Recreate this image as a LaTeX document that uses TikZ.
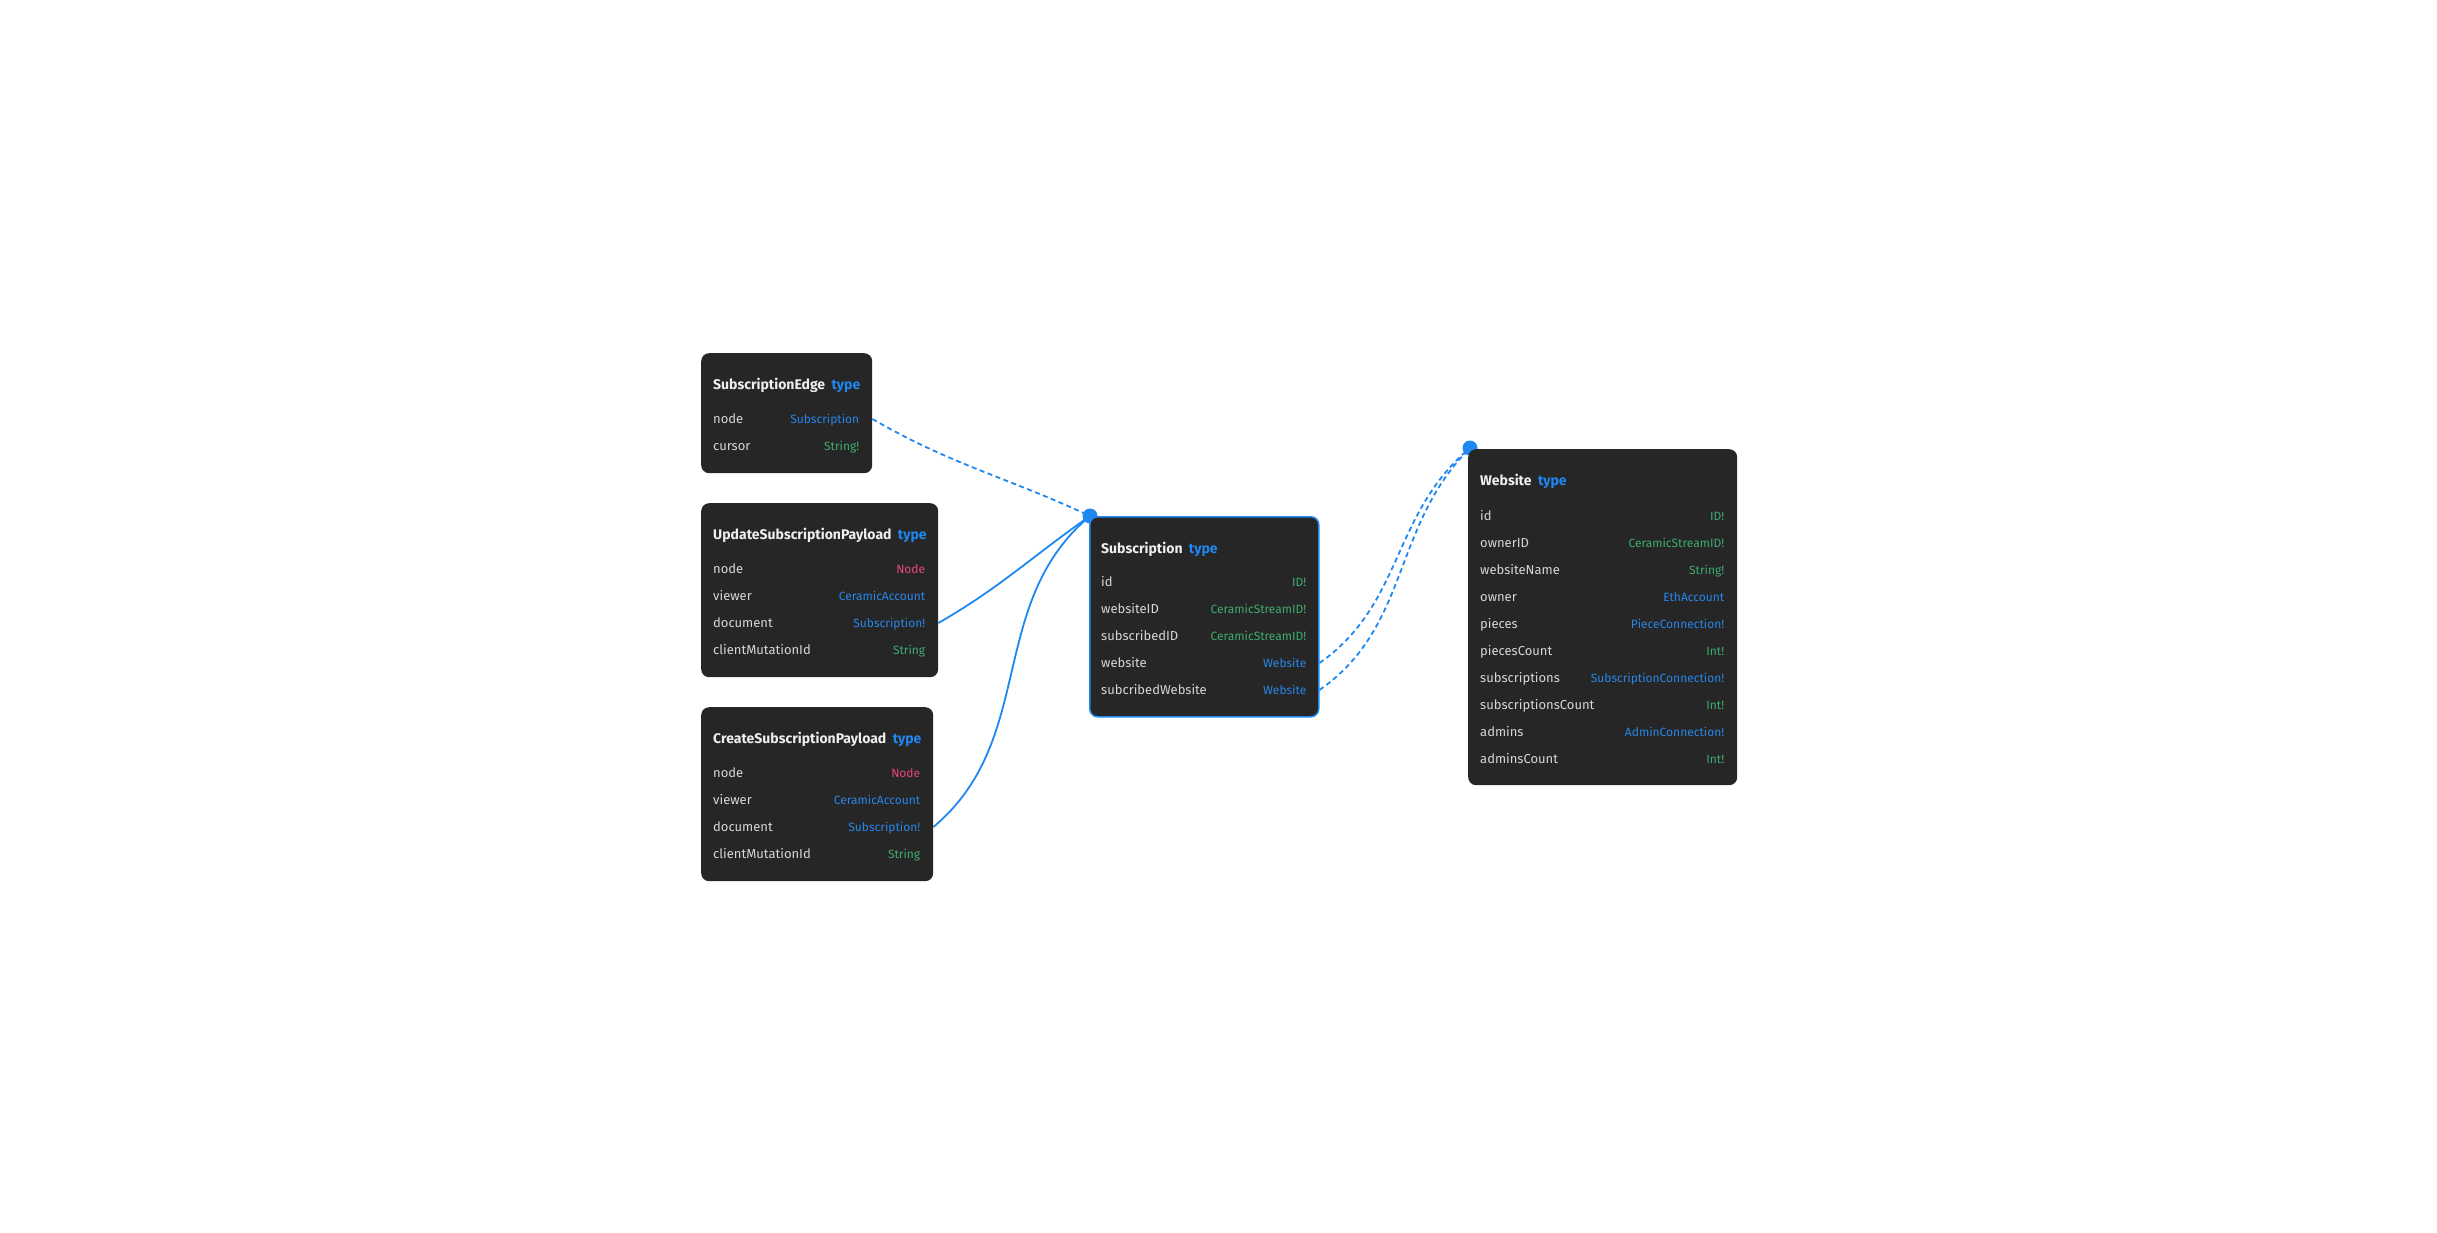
\documentclass[tikz,border=0pt]{standalone}
\usepackage{fontspec}
\setmainfont{Fira Sans}
\usepackage{tikz}
\usetikzlibrary{backgrounds}
\usetikzlibrary{calc}
\usetikzlibrary{positioning}
\definecolor{panel}{RGB}{38,38,38}
\definecolor{titlecol}{RGB}{238,238,238}
\definecolor{fieldcol}{RGB}{214,214,214}
\definecolor{linkblue}{RGB}{30,136,240}
\definecolor{objblue}{RGB}{40,134,232}
\definecolor{scalargreen}{RGB}{62,172,112}
\definecolor{ifacepink}{RGB}{232,68,126}
\tikzset{
    typebox/.style = {
      rectangle,
      rounded corners=8pt,
      fill=panel,
      anchor=north west,
      inner sep=0pt
    },
    pickedbox/.style = {
      typebox,
      draw=linkblue,
      line width=1.5pt
    },
    cell/.style = {inner sep=0pt, text height=9pt, text depth=0pt, font=\fontsize{13}{16}\selectfont},
    typename/.style = {cell, anchor=west, text=titlecol, font=\fontsize{14}{16}\selectfont\bfseries},
    kindtag/.style = {cell, text=linkblue, font=\fontsize{14}{16}\selectfont\bfseries},
    fieldname/.style = {cell, anchor=west, text=fieldcol},
    fieldtype/.style = {cell, anchor=east, font=\fontsize{12}{16}\selectfont},
    scalartype/.style = {fieldtype, text=scalargreen},
    objecttype/.style = {fieldtype, text=objblue},
    ifacetype/.style = {fieldtype, text=ifacepink},
    link/.style = {draw=linkblue, line width=1.8pt},
    weaklink/.style = {link, dash pattern=on 5pt off 3.5pt},
    hub/.style = {circle, fill=linkblue, minimum size=15pt, inner sep=0pt},
}

\begin{document}
\begin{tikzpicture}[x=1pt, y=-1pt]
      \useasboundingbox (0,0) rectangle (2437,1233);

      % SubscriptionEdge
      \node[typebox, minimum width=171pt, minimum height=120pt] (edge) at (701,353) {};
      \node[typename] (edgetitle) at ($(edge.north west)+(12,32)$) {SubscriptionEdge};
      \node[kindtag, base right=6pt of edgetitle] (edgekind) {type};
      \node[fieldname] (edge1) at ($(edge.north west)+(12,66)$) {node};
      \node[objecttype] (edge1t) at ($(edge.north east)+(-13,66)$) {Subscription};
      \node[fieldname] (edge2) at ($(edge.north west)+(12,93)$) {cursor};
      \node[scalartype] (edge2t) at ($(edge.north east)+(-13,93)$) {String!};

      % UpdateSubscriptionPayload
      \node[typebox, minimum width=237pt, minimum height=174pt] (update) at (701,503) {};
      \node[typename] (updatetitle) at ($(update.north west)+(12,32)$) {UpdateSubscriptionPayload};
      \node[kindtag, base right=6pt of updatetitle] (updatekind) {type};
      \node[fieldname] (update1) at ($(update.north west)+(12,66)$) {node};
      \node[ifacetype] (update1t) at ($(update.north east)+(-13,66)$) {Node};
      \node[fieldname] (update2) at ($(update.north west)+(12,93)$) {viewer};
      \node[objecttype] (update2t) at ($(update.north east)+(-13,93)$) {CeramicAccount};
      \node[fieldname] (update3) at ($(update.north west)+(12,120)$) {document};
      \node[objecttype] (update3t) at ($(update.north east)+(-13,120)$) {Subscription!};
      \node[fieldname] (update4) at ($(update.north west)+(12,147)$) {clientMutationId};
      \node[scalartype] (update4t) at ($(update.north east)+(-13,147)$) {String};

      % CreateSubscriptionPayload
      \node[typebox, minimum width=232pt, minimum height=174pt] (create) at (701,707) {};
      \node[typename] (createtitle) at ($(create.north west)+(12,32)$) {CreateSubscriptionPayload};
      \node[kindtag, base right=6pt of createtitle] (createkind) {type};
      \node[fieldname] (create1) at ($(create.north west)+(12,66)$) {node};
      \node[ifacetype] (create1t) at ($(create.north east)+(-13,66)$) {Node};
      \node[fieldname] (create2) at ($(create.north west)+(12,93)$) {viewer};
      \node[objecttype] (create2t) at ($(create.north east)+(-13,93)$) {CeramicAccount};
      \node[fieldname] (create3) at ($(create.north west)+(12,120)$) {document};
      \node[objecttype] (create3t) at ($(create.north east)+(-13,120)$) {Subscription!};
      \node[fieldname] (create4) at ($(create.north west)+(12,147)$) {clientMutationId};
      \node[scalartype] (create4t) at ($(create.north east)+(-13,147)$) {String};

      % Subscription
      \node[pickedbox, minimum width=229pt, minimum height=200pt] (sub) at (1089,516) {};
      \node[typename] (subtitle) at ($(sub.north west)+(12,33)$) {Subscription};
      \node[kindtag, base right=6pt of subtitle] (subkind) {type};
      \node[fieldname] (sub1) at ($(sub.north west)+(12,66)$) {id};
      \node[scalartype] (sub1t) at ($(sub.north east)+(-13,66)$) {ID!};
      \node[fieldname] (sub2) at ($(sub.north west)+(12,93)$) {websiteID};
      \node[scalartype] (sub2t) at ($(sub.north east)+(-13,93)$) {CeramicStreamID!};
      \node[fieldname] (sub3) at ($(sub.north west)+(12,120)$) {subscribedID};
      \node[scalartype] (sub3t) at ($(sub.north east)+(-13,120)$) {CeramicStreamID!};
      \node[fieldname] (sub4) at ($(sub.north west)+(12,147)$) {website};
      \node[objecttype] (sub4t) at ($(sub.north east)+(-13,147)$) {Website};
      \node[fieldname] (sub5) at ($(sub.north west)+(12,174)$) {subcribedWebsite};
      \node[objecttype] (sub5t) at ($(sub.north east)+(-13,174)$) {Website};

      % Website
      \node[typebox, minimum width=269pt, minimum height=336pt] (web) at (1468,449) {};
      \node[typename] (webtitle) at ($(web.north west)+(12,32)$) {Website};
      \node[kindtag, base right=6pt of webtitle] (webkind) {type};
      \node[fieldname] (web1) at ($(web.north west)+(12,67)$) {id};
      \node[scalartype] (web1t) at ($(web.north east)+(-13,67)$) {ID!};
      \node[fieldname] (web2) at ($(web.north west)+(12,94)$) {ownerID};
      \node[scalartype] (web2t) at ($(web.north east)+(-13,94)$) {CeramicStreamID!};
      \node[fieldname] (web3) at ($(web.north west)+(12,121)$) {websiteName};
      \node[scalartype] (web3t) at ($(web.north east)+(-13,121)$) {String!};
      \node[fieldname] (web4) at ($(web.north west)+(12,148)$) {owner};
      \node[objecttype] (web4t) at ($(web.north east)+(-13,148)$) {EthAccount};
      \node[fieldname] (web5) at ($(web.north west)+(12,175)$) {pieces};
      \node[objecttype] (web5t) at ($(web.north east)+(-13,175)$) {PieceConnection!};
      \node[fieldname] (web6) at ($(web.north west)+(12,202)$) {piecesCount};
      \node[scalartype] (web6t) at ($(web.north east)+(-13,202)$) {Int!};
      \node[fieldname] (web7) at ($(web.north west)+(12,229)$) {subscriptions};
      \node[objecttype] (web7t) at ($(web.north east)+(-13,229)$) {SubscriptionConnection!};
      \node[fieldname] (web8) at ($(web.north west)+(12,256)$) {subscriptionsCount};
      \node[scalartype] (web8t) at ($(web.north east)+(-13,256)$) {Int!};
      \node[fieldname] (web9) at ($(web.north west)+(12,283)$) {admins};
      \node[objecttype] (web9t) at ($(web.north east)+(-13,283)$) {AdminConnection!};
      \node[fieldname] (web10) at ($(web.north west)+(12,310)$) {adminsCount};
      \node[scalartype] (web10t) at ($(web.north east)+(-13,310)$) {Int!};

      \begin{pgfonlayer}{background}
        \node[hub] (subhub) at ($(sub.north west)+(1,0)$) {};
        \node[hub] (webhub) at ($(web.north west)+(2,-1)$) {};

        \draw[weaklink] (edge1 -| edge.east) to[out=-30, in=155] (subhub.center);
        \draw[link] (update3 -| update.east) to[out=30, in=-145] (subhub.center);
        \draw[link] (create3 -| create.east) to[out=40, in=-140] (subhub.center);
        \draw[weaklink] (sub4 -| sub.east) to[out=35, in=-140] (webhub.center);
        \draw[weaklink] (sub5 -| sub.east) to[out=35, in=-135] (webhub.center);
      \end{pgfonlayer}
\end{tikzpicture}
\end{document}
